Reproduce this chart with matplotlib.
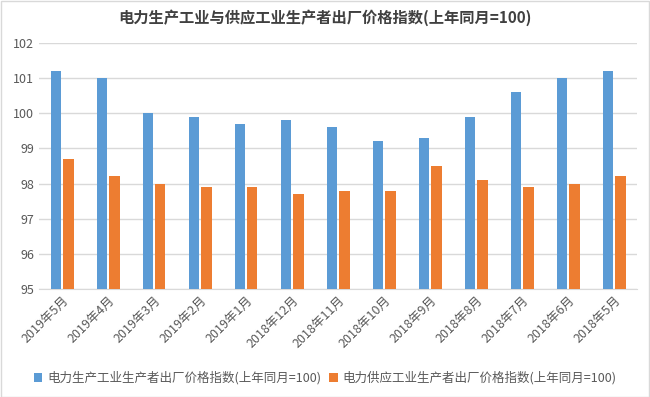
import numpy as np
import matplotlib.pyplot as plt
from matplotlib.patches import Rectangle

plt.rcParams['font.family'] = ['Noto Sans CJK SC', 'DejaVu Sans']

months = ['2019年5月', '2019年4月', '2019年3月', '2019年2月', '2019年1月', '2018年12月',
          '2018年11月', '2018年10月', '2018年9月', '2018年8月', '2018年7月', '2018年6月', '2018年5月']
production = [101.2, 101.0, 100.0, 99.9, 99.7, 99.8, 99.6, 99.2, 99.3, 99.9, 100.6, 101.0, 101.2]
supply = [98.7, 98.2, 98.0, 97.9, 97.9, 97.7, 97.8, 97.8, 98.5, 98.1, 97.9, 98.0, 98.2]

name1 = '电力生产工业生产者出厂价格指数(上年同月=100)'
name2 = '电力供应工业生产者出厂价格指数(上年同月=100)'

fig = plt.figure(figsize=(6.5, 3.97), dpi=100)
ax = fig.add_axes([0.06, 0.272, 0.92, 0.62])

x = np.arange(len(months))
w = 0.22
ax.bar(x - 0.14, production, w, bottom=0, color='#5b9bd5', label=name1, zorder=3)
ax.bar(x + 0.14, supply, w, bottom=0, color='#ed7d31', label=name2, zorder=3)

ax.set_ylim(95, 102)
ax.set_xlim(-0.5, len(months) - 0.5)
ax.set_yticks(range(95, 103))
ax.yaxis.grid(True, color='#d9d9d9', linewidth=1, zorder=0)
for s in ['top', 'right', 'left']:
    ax.spines[s].set_visible(False)
ax.spines['bottom'].set_color('#d9d9d9')
ax.tick_params(axis='both', length=0, colors='#595959', labelsize=9)
ax.set_xticks(x)
ax.set_xticklabels(months, rotation=45, ha='right', rotation_mode='anchor')

fig.text(0.5, 0.955, '电力生产工业与供应工业生产者出厂价格指数(上年同月=100)',
         ha='center', va='center', fontsize=11, color='#404040', fontweight='bold')

fig.legend(loc='center', bbox_to_anchor=(0.5, 0.048), ncol=2, frameon=False,
           fontsize=9, handlelength=0.7, handleheight=0.7, columnspacing=0.6,
           handletextpad=0.4, labelcolor='#595959')

fig.patches.append(Rectangle((0.001, 0.001), 0.997, 0.997, transform=fig.transFigure,
                             fill=False, edgecolor='#d9d9d9', linewidth=1))

fig.savefig('out.png', dpi=100)
